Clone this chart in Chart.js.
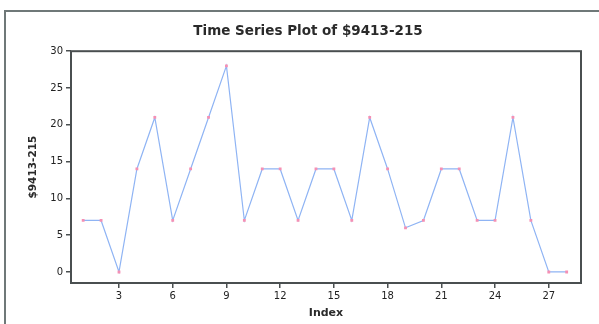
<!DOCTYPE html>
<html>
<head>
<meta charset="utf-8">
<script src="https://cdn.jsdelivr.net/npm/chart.js@4"></script>
<style>
html,body{margin:0;padding:0;background:#fff;}
#wrap{position:relative;width:599px;height:324px;overflow:hidden;background:#fff;}
#frame{position:absolute;left:4px;top:10px;width:620px;height:340px;border-top:2px solid #6f7878;border-left:2px solid #6f7878;box-sizing:border-box;}
canvas{position:absolute;left:0;top:0;}
</style>
</head>
<body>
<div id="wrap">
<div id="frame"></div>
<canvas id="c" width="599" height="324"></canvas>
</div>
<script>
const titleText = 'Time Series Plot of $9413-215';
const yTitle = '$9413-215';
const xTitle = 'Index';
const indexValues = [1,2,3,4,5,6,7,8,9,10,11,12,13,14,15,16,17,18,19,20,21,22,23,24,25,26,27,28];
const seriesValues = [7,7,0,14,21,7,14,21,28,7,14,14,7,14,14,7,21,14,6,7,14,14,7,7,21,7,0,0];
const xTicks = [3,6,9,12,15,18,21,24,27];
const yTicks = [0,5,10,15,20,25,30];

const points = indexValues.map((x,i)=>({x:x,y:seriesValues[i]}));

const frameColor = '#4a4f50';
const plotBorder = {
  id:'plotBorder',
  afterDatasetsDraw(chart){
    const a = chart.chartArea, ctx = chart.ctx;
    ctx.save();
    ctx.strokeStyle = frameColor;
    ctx.lineWidth = 2;
    ctx.strokeRect(a.left, a.top, a.right - a.left, a.bottom - a.top);
    ctx.restore();
  }
};

new Chart(document.getElementById('c'), {
  type:'line',
  data:{datasets:[{
    data:points,
    borderColor:'#8fb4f4',
    borderWidth:1.2,
    pointStyle:'rect',
    pointRadius:2,
    pointBackgroundColor:'#f590b4',
    pointBorderColor:'#f590b4',
    pointBorderWidth:0,
    tension:0,
    fill:false
  }]},
  options:{
    responsive:false,
    animation:false,
    devicePixelRatio:1,
    layout:{padding:{left:35,right:18,top:0,bottom:0}},
    plugins:{
      legend:{display:false},
      tooltip:{enabled:false},
      title:{display:true,text:titleText,color:'#2a2a2a',
        font:{family:'DejaVu Sans',size:13.5,weight:'bold'},
        padding:{top:23,bottom:12}}
    },
    scales:{
      x:{type:'linear',min:0.32,max:28.8,
        afterBuildTicks:s=>{s.ticks = xTicks.map(v=>({value:v}));},
        afterFit:s=>{s.height = 41;},
        border:{display:false},
        grid:{drawOnChartArea:false,drawTicks:true,tickLength:5,color:frameColor,lineWidth:1.5},
        ticks:{color:'#222',padding:2,font:{family:'DejaVu Sans',size:10},maxRotation:0,autoSkip:false},
        title:{display:true,text:xTitle,color:'#2a2a2a',font:{family:'DejaVu Sans',size:11,weight:'bold'},padding:{top:0,bottom:4}}
      },
      y:{type:'linear',min:-1.5,max:30,
        afterBuildTicks:s=>{s.ticks = yTicks.map(v=>({value:v}));},
        afterFit:s=>{s.width = 36;},
        border:{display:false},
        grid:{drawOnChartArea:false,drawTicks:true,tickLength:5,color:frameColor,lineWidth:1.5},
        ticks:{color:'#222',padding:3,font:{family:'DejaVu Sans',size:10},autoSkip:false},
        title:{display:true,text:yTitle,color:'#2a2a2a',font:{family:'DejaVu Sans',size:10.5,weight:'bold'},padding:{top:-8.5,bottom:0}}
      }
    }
  },
  plugins:[plotBorder]
});
</script>
</body>
</html>
